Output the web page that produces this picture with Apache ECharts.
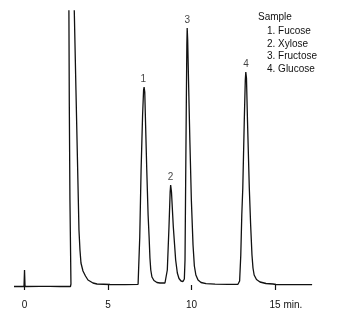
<!DOCTYPE html>
<html>
<head>
<meta charset="utf-8">
<script src="https://cdn.jsdelivr.net/npm/echarts@6/dist/echarts.min.js"></script>
<style>
  html, body { margin: 0; padding: 0; background: #fff; }
  #chart { width: 337px; height: 316px; }
</style>
</head>
<body>
<div id="chart"></div>
<script>
// Retention time (min) and detector signal (arbitrary units)
var retentionTime = [
  -0.63, -0.03, 0.00, 0.03, 0.93, 1.53, 2.13, 2.75,
  2.78, 2.72, 2.68, 2.65, 2.94, 2.98, 3.08, 3.17, 3.26, 3.32, 3.38, 3.50, 3.65, 3.80, 4.10, 4.34,
  5.12, 6.02, 6.80,
  6.84, 6.90, 6.98, 7.07, 7.13, 7.16, 7.20, 7.25, 7.32, 7.40, 7.46, 7.51, 7.56, 7.63, 7.75, 7.93, 8.11, 8.41, 8.49,
  8.55, 8.65, 8.72, 8.75, 8.80, 8.91, 9.05, 9.15, 9.25, 9.37, 9.49, 9.57,
  9.61, 9.65, 9.69, 9.72, 9.74, 9.77, 9.82, 9.90, 9.99, 10.09, 10.17, 10.26, 10.39, 10.57, 10.87,
  11.41, 12.19, 12.78,
  12.88, 12.95, 13.01, 13.07, 13.16, 13.22, 13.25, 13.29, 13.35, 13.46, 13.54, 13.62, 13.68, 13.75, 13.89, 14.10, 14.46, 14.88, 15.06,
  15.90, 16.80, 17.22
];
var detectorSignal = [
  -1.5, -1.5, 15, -1.5, -1.3, -1.3, -1.5, -1.5,
  1, 85, 185, 305, 305, 274, 195, 125, 55, 35, 22, 14, 9, 5, 2, 1,
  0.5, 0.3, 0.7,
  2, 48, 115, 170, 195, 198, 193, 160, 115, 70, 48, 27, 15, 8, 4.5, 2.5, 2, 2, 4,
  15, 58, 93, 100, 93, 58, 25, 12, 6.5, 4, 3.5, 6,
  25, 105, 185, 240, 257, 245, 205, 145, 85, 40, 19, 10, 5, 2.5, 1.3,
  0.8, 0.6, 0.7,
  4, 30, 70, 97, 165, 205, 213, 207, 165, 97, 60, 30, 17, 10, 5.5, 3, 1.5, 1, 0.5,
  0.4, 0.4, 0.3
];

// Peak numbering
var peakLabels = ['1', '2', '3', '4'];
var peakTimes = [7.11, 8.75, 9.75, 13.26];
var peakHeights = [198, 100, 257, 213];

// Sample legend text
var sampleTitle = 'Sample';
var sampleComponents = ['1. Fucose', '2. Xylose', '3. Fructose', '4. Glucose'];

// Time axis ticks
var timeTicks = [0, 5, 10, 15];
var timeUnit = 'min.';

var FONT = '"Liberation Sans", Arial, Helvetica, sans-serif';
var INK = '#111';

var traceData = retentionTime.map(function (t, i) { return [t, detectorSignal[i]]; });
var peakData = peakTimes.map(function (t, i) { return { value: [t, peakHeights[i]], name: peakLabels[i] }; });

var graphics = [{
  type: 'text', x: 258, y: 17,
  style: { text: sampleTitle, font: '10px ' + FONT, fill: INK, align: 'left', verticalAlign: 'middle' }
}];
sampleComponents.forEach(function (s, i) {
  graphics.push({
    type: 'text', x: 267, y: 31 + i * 12.8,
    style: { text: s, font: '10px ' + FONT, fill: INK, align: 'left', verticalAlign: 'middle' }
  });
});

var chart = echarts.init(document.getElementById('chart'), null, { renderer: 'canvas' });
chart.setOption({
  animation: false,
  backgroundColor: '#fff',
  grid: { left: 14, right: 24.9, top: 11, bottom: 25, containLabel: false },
  xAxis: {
    type: 'value',
    min: -0.63,
    max: 17.22,
    offset: 1,
    axisLine: { show: false },
    splitLine: { show: false },
    axisTick: {
      show: true, length: 5, inside: false,
      customValues: timeTicks,
      lineStyle: { color: INK, width: 1.2 }
    },
    axisLabel: {
      show: true, margin: 8,
      customValues: timeTicks,
      color: INK, fontFamily: FONT, fontSize: 10,
      formatter: function (v) {
        if (v === timeTicks[timeTicks.length - 1]) {
          return '{pad|}{a|' + v + '}{a| ' + timeUnit + '}';
        }
        return String(v);
      },
      rich: {
        pad: { width: 21.7 },
        a: { color: INK, fontFamily: FONT, fontSize: 10 }
      }
    }
  },
  yAxis: {
    type: 'value',
    min: -6,
    max: 274,
    show: false
  },
  series: [
    {
      type: 'line',
      data: traceData,
      showSymbol: false,
      symbol: 'none',
      clip: true,
      smooth: false,
      lineStyle: { color: INK, width: 1.3 },
      silent: true
    },
    {
      type: 'scatter',
      data: peakData,
      symbolSize: 1,
      itemStyle: { color: 'transparent' },
      label: {
        show: true, position: 'top', distance: 2,
        formatter: function (p) { return p.name; },
        color: INK, fontFamily: FONT, fontSize: 10
      },
      silent: true
    }
  ],
  graphic: graphics
});
</script>
</body>
</html>
